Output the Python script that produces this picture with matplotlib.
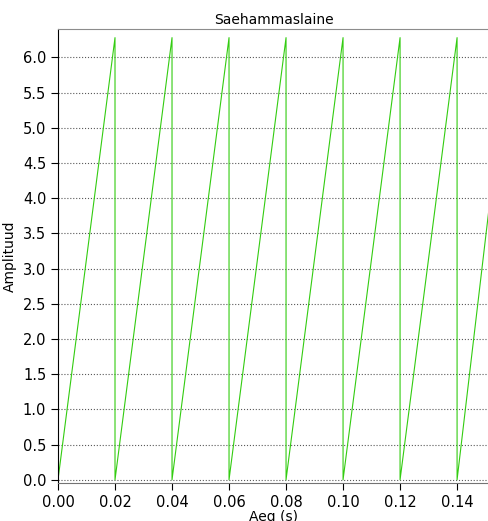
import matplotlib.pyplot as plt

# sawtooth corner points
aeg = [0.00, 0.02, 0.02, 0.04, 0.04, 0.06, 0.06, 0.08, 0.08,
       0.10, 0.10, 0.12, 0.12, 0.14, 0.14, 0.1512]
amplituud = [0.0, 6.28, 0.0, 6.28, 0.0, 6.28, 0.0, 6.28, 0.0,
             6.28, 0.0, 6.28, 0.0, 6.28, 0.0, 3.85]
xticks = [0.00, 0.02, 0.04, 0.06, 0.08, 0.10, 0.12, 0.14]
yticks = [0.0, 0.5, 1.0, 1.5, 2.0, 2.5, 3.0, 3.5, 4.0, 4.5, 5.0, 5.5, 6.0]

fig = plt.figure(figsize=(4.89, 5.21), dpi=100)
ax = fig.add_axes([0.1186, 0.073, 0.8814, 0.871])

ax.plot(aeg, amplituud, color='#33cc11', lw=0.8)

ax.set_xlim(0, 0.1512)
ax.set_ylim(-0.045, 6.4)
ax.set_xticks(xticks)
ax.set_xticklabels([f"{v:.2f}" for v in xticks])
ax.set_yticks(yticks)
ax.set_yticklabels([f"{v:.1f}" for v in yticks])
ax.tick_params(labelsize=10.5, length=5, color='black')

ax.yaxis.grid(True, linestyle=':', color='0.35', lw=0.8)
ax.set_axisbelow(True)

ax.spines['right'].set_visible(False)
ax.spines['top'].set_color('0.55')
ax.spines['bottom'].set_color('0.45')
ax.spines['left'].set_color('black')

ax.set_title("Saehammaslaine", fontsize=10, pad=4)
ax.set_ylabel("Amplituud", fontsize=10, labelpad=4)
ax.set_xlabel("Aeg (s)", fontsize=10, labelpad=0)

fig.savefig("out.png", dpi=100)
